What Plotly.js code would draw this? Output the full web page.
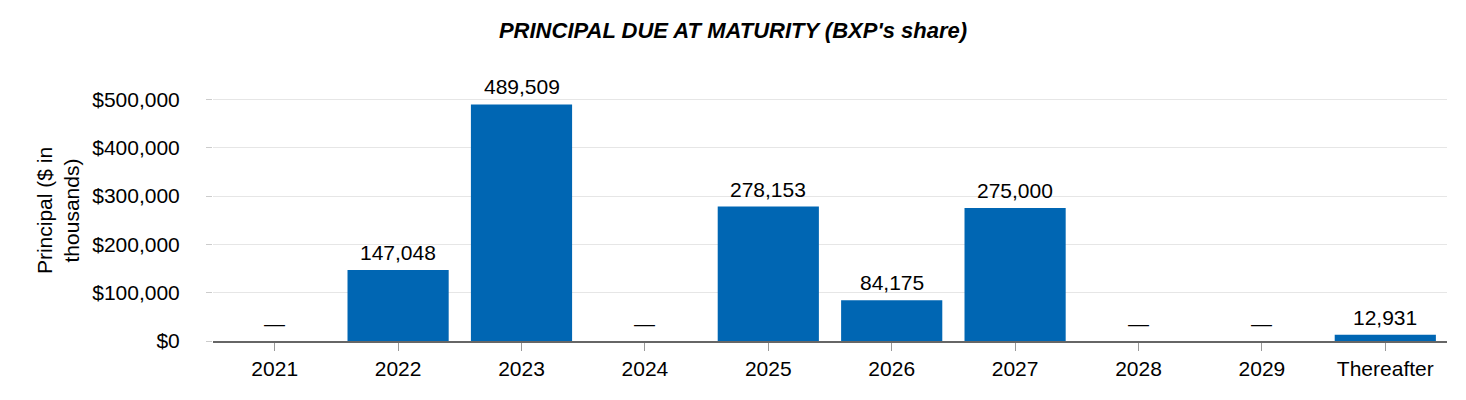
<!DOCTYPE html>
<html>
<head>
<meta charset="utf-8">
<script src="https://cdn.plot.ly/plotly-3.0.1.min.js"></script>
<style>html,body{margin:0;padding:0;background:#fff;}#chart{width:1466px;height:400px;}</style>
</head>
<body>
<div id="chart"></div>
<script>
const categories = ["2021","2022","2023","2024","2025","2026","2027","2028","2029","Thereafter"];
const principal = [0, 147048, 489509, 0, 278153, 84175, 275000, 0, 0, 12931];
const labels = principal.map(v => v === 0 ? "—" : v.toLocaleString("en-US"));

const trace = {
  type: "bar",
  x: categories,
  y: principal,
  marker: {color: "#0066b3"},
  hoverinfo: "x+y"
};

// category axis: annotations positioned by category index
const annotations = categories.map((c, i) => ({
  x: i, y: principal[i], xref: "x", yref: "y",
  text: labels[i], showarrow: false,
  xanchor: "center", yanchor: "bottom", yshift: 4,
  font: {family: "Liberation Sans, Arial, sans-serif", size: 21, color: "#000"}
}));

const layout = {
  width: 1466, height: 400,
  margin: {l: 213, r: 19, t: 80, b: 59},
  paper_bgcolor: "#fff", plot_bgcolor: "#fff",
  font: {family: "Liberation Sans, Arial, sans-serif", size: 21, color: "#000"},
  title: {
    text: "PRINCIPAL DUE AT MATURITY (BXP's share)",
    x: 0.5, xanchor: "center", y: 0.925, yanchor: "middle",
    font: {size: 22, weight: "bold", style: "italic", color: "#000"}
  },
  bargap: 0.18,
  showlegend: false,
  annotations: annotations,
  xaxis: {
    type: "category",
    range: [-0.5, categories.length - 0.5],
    showline: true, linecolor: "#666", linewidth: 2,
    ticks: "outside", tickcolor: "#999", ticklen: 8, tickwidth: 1,
    showgrid: false,
    tickfont: {size: 21, color: "#000"}
  },
  yaxis: {
    range: [0, 540000],
    tickvals: [0, 100000, 200000, 300000, 400000, 500000],
    ticktext: ["$0", "$100,000", "$200,000", "$300,000", "$400,000", "$500,000"],
    ticks: "outside", tickcolor: "#ccc", ticklen: 6,
    ticklabelstandoff: 22,
    gridcolor: "#e6e6e6", gridwidth: 1,
    zeroline: false, showline: false,
    tickfont: {size: 21, color: "#000"},
    title: {text: "Principal ($ in<br>thousands)", standoff: 6, font: {size: 21, color: "#000"}}
  }
};

Plotly.newPlot("chart", [trace], layout, {displayModeBar: false, staticPlot: true});
</script>
</body>
</html>
